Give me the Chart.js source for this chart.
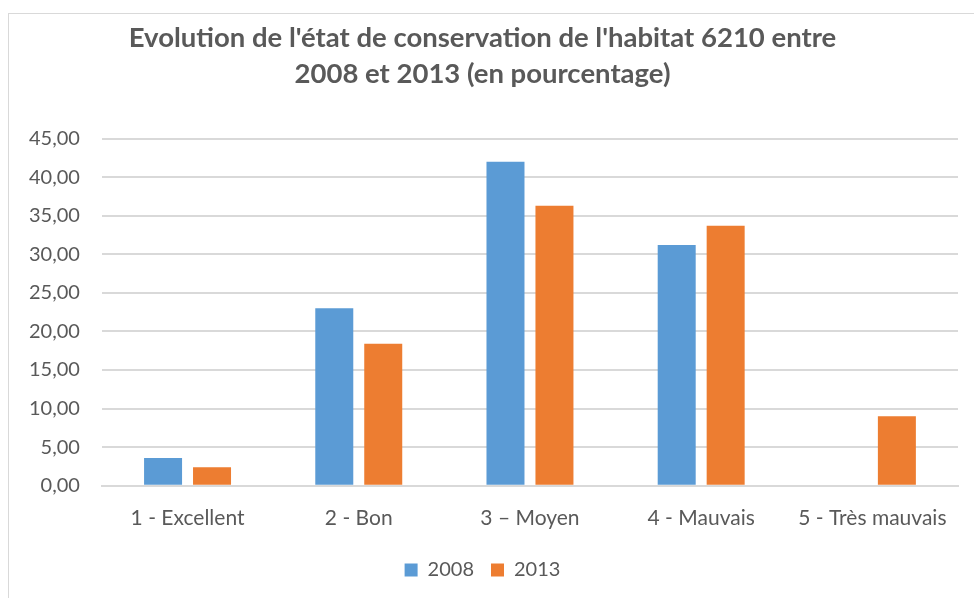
<!DOCTYPE html>
<html>
<head>
<meta charset="utf-8">
<script src="https://cdn.jsdelivr.net/npm/chart.js@4"></script>
<style>
  html, body { margin: 0; padding: 0; background: #fff; overflow: hidden; }
  #frame { position: absolute; left: 8px; top: 13px; width: 1100px; height: 700px;
           border-left: 1px solid #d9d9d9; border-top: 1px solid #d9d9d9; }
  #wrap { position: absolute; left: 0; top: 0; width: 974px; height: 598px; }
</style>
</head>
<body>
<div id="frame"></div>
<div id="wrap"><canvas id="chart"></canvas></div>
<script>
const categories = ['1 - Excellent', '2 - Bon', '3 – Moyen', '4 - Mauvais', '5 - Très mauvais'];
const values2008 = [3.6, 23.0, 42.0, 31.2, 0];
const values2013 = [2.4, 18.4, 36.3, 33.7, 9.0];
const titleLines = ["Evolution de l'état de conservation de l'habitat 6210 entre", '2008 et 2013 (en pourcentage)'];

const textColor = '#595959';
const gridColor = '#d9d9d9';
const font = 'Lato, "Open Sans", sans-serif';

new Chart(document.getElementById('chart'), {
    type: 'bar',
    data: {
        labels: categories,
        datasets: [
            {label: '2008', data: values2008, backgroundColor: '#5b9bd5', categoryPercentage: 0.572, barPercentage: 0.776},
            {label: '2013', data: values2013, backgroundColor: '#ed7d31', categoryPercentage: 0.572, barPercentage: 0.776},
        ]
    },
    options: {
        responsive: true,
        maintainAspectRatio: false,
        animation: false,
        layout: {padding: {left: 7, right: 16, top: 12, bottom: 8}},
        scales: {
            x: {
                grid: {display: false},
                border: {display: true, color: gridColor, width: 2},
                ticks: {color: textColor, font: {family: font, size: 21}, padding: 12}
            },
            y: {
                min: 0, max: 45,
                border: {display: false},
                grid: {color: gridColor, lineWidth: 2, drawTicks: false},
                ticks: {
                    stepSize: 5, color: textColor, padding: 22,
                    font: {family: font, size: 20},
                    callback: v => v.toFixed(2).replace('.', ',')
                }
            }
        },
        plugins: {
            title: {
                display: true, text: titleLines, color: textColor,
                font: {family: font, size: 27.5, weight: 'bold', lineHeight: 1.3},
                padding: {top: 8, bottom: 47}
            },
            legend: {
                position: 'bottom',
                labels: {color: textColor, font: {family: font, size: 20}, boxWidth: 13, boxHeight: 13, padding: 17}
            },
            tooltip: {enabled: false}
        }
    }
});
</script>
</body>
</html>
